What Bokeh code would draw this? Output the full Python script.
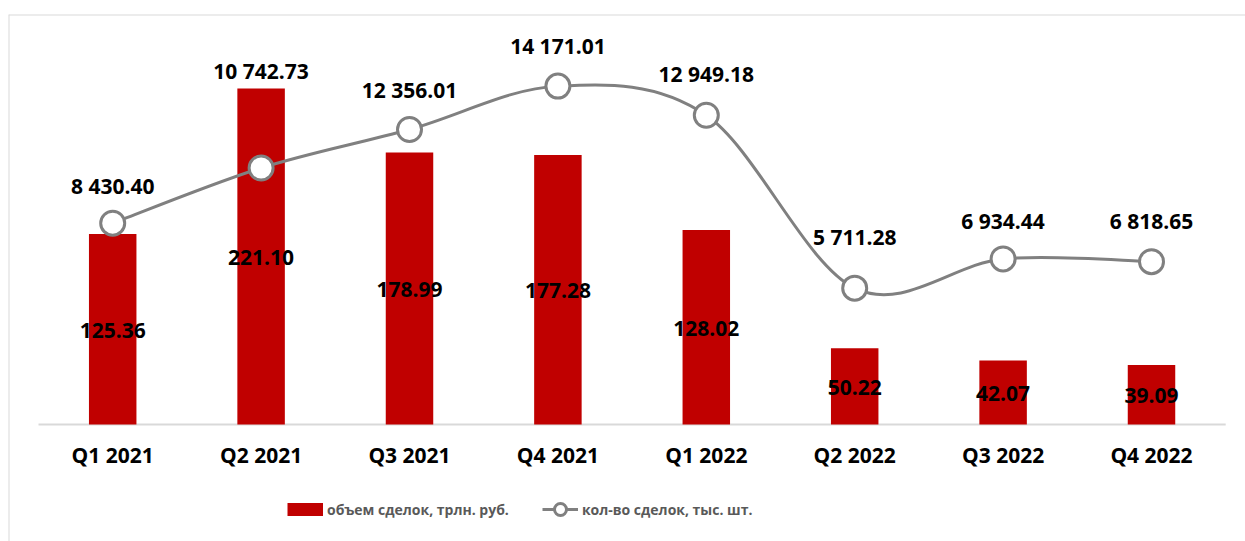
from bokeh.plotting import figure
from bokeh.models import ColumnDataSource, Range1d, FixedTicker, Legend, LegendItem, Span
from bokeh.core.properties import value
from bokeh.embed import file_html
from bokeh.resources import INLINE

# ---- data ----
categories = ["Q1 2021", "Q2 2021", "Q3 2021", "Q4 2021",
              "Q1 2022", "Q2 2022", "Q3 2022", "Q4 2022"]
volume = [125.36, 221.10, 178.99, 177.28, 128.02, 50.22, 42.07, 39.09]
count = [8430.40, 10742.73, 12356.01, 14171.01, 12949.18, 5711.28, 6934.44, 6818.65]
volume_name = "объем сделок, трлн. руб."
count_name = "кол-во сделок, тыс. шт."

# label vertical offsets (px, screen) for the line's data labels
label_dy = [-37, -97, -39, -40, -41, -51, -38, -41]

FONT = "Open Sans"
BAR = "#C00000"
GREY = "#808080"
BORDER = "#D9D9D9"

n = len(categories)
xs = [i + 0.5 for i in range(n)]


def fmt(v):
    return f"{v:,.2f}".replace(",", " ")


src = ColumnDataSource(dict(
    x=xs, vol=volume, vol_mid=[v / 2 for v in volume], vol_lbl=[fmt(v) for v in volume],
    cnt=count, cnt_lbl=[fmt(v) for v in count], dy=label_dy,
))

# smooth (Catmull-Rom -> Bezier) segments, like a spreadsheet "smoothed line"
pts = list(zip(xs, count))
bz = dict(x0=[], y0=[], x1=[], y1=[], cx0=[], cy0=[], cx1=[], cy1=[])
for i in range(n - 1):
    p0 = pts[max(i - 1, 0)]
    p1 = pts[i]
    p2 = pts[i + 1]
    p3 = pts[min(i + 2, n - 1)]
    bz["x0"].append(p1[0]); bz["y0"].append(p1[1])
    bz["x1"].append(p2[0]); bz["y1"].append(p2[1])
    bz["cx0"].append(p1[0] + (p2[0] - p0[0]) / 6)
    bz["cy0"].append(p1[1] + (p2[1] - p0[1]) / 6)
    bz["cx1"].append(p2[0] - (p3[0] - p1[0]) / 6)
    bz["cy1"].append(p2[1] - (p3[1] - p1[1]) / 6)
bz_src = ColumnDataSource(bz)

W, H = 1245, 541
LEFT, TOP = 8, 14
px_x = 148.4            # px per category
left_pad = 30           # px from frame left to first category edge
frame_w = W - LEFT
frame_h = H - TOP
base_from_top = 410     # px from frame top to the zero line
px_vol = 1.5197         # px per unit (volume)
px_cnt = 0.023878       # px per unit (count)

x0r = -left_pad / px_x
y_end = base_from_top / px_vol
p = figure(
    width=W, height=H,
    x_range=Range1d(x0r, x0r + frame_w / px_x),
    y_range=Range1d(-(frame_h - base_from_top) / px_vol, y_end),
    output_backend="svg", toolbar_location=None,
    min_border_left=LEFT, min_border_right=0, min_border_top=TOP, min_border_bottom=0,
    y_axis_location=None, outline_line_color=None,
)
p.extra_y_ranges = {"cnt": Range1d(-(frame_h - base_from_top) / px_cnt, base_from_top / px_cnt)}
p.xgrid.visible = False
p.ygrid.visible = False

# chart-area border (top and left edges)
p.add_layout(Span(location=y_end, dimension="width", line_color=BORDER, line_width=2))
p.add_layout(Span(location=x0r, dimension="height", line_color=BORDER, line_width=2))

# baseline across the category band
p.line(x=[0, n], y=[0, 0], line_color=BORDER, line_width=2)

p.vbar(x="x", top="vol", width=0.32, source=src, fill_color=BAR, line_color=None)
p.text(x="x", y="vol_mid", text="vol_lbl", source=src, y_offset=1,
       text_font=value(FONT), text_font_style="bold", text_font_size="21px",
       text_color="black", text_align="center", text_baseline="middle")

p.bezier(x0="x0", y0="y0", x1="x1", y1="y1", cx0="cx0", cy0="cy0", cx1="cx1", cy1="cy1",
         source=bz_src, line_color=GREY, line_width=3, y_range_name="cnt")
sc = p.scatter(x="x", y="cnt", source=src, size=24, fill_color="white",
               line_color=GREY, line_width=3, y_range_name="cnt")
p.text(x="x", y="cnt", text="cnt_lbl", source=src, y_offset="dy", y_range_name="cnt",
       text_font=value(FONT), text_font_style="bold", text_font_size="21px",
       text_color="black", text_align="center", text_baseline="middle")

ax = p.xaxis[0]
ax.fixed_location = 0
ax.ticker = FixedTicker(ticks=xs)
ax.major_label_overrides = {x: c for x, c in zip(xs, categories)}
ax.axis_line_color = None
ax.major_tick_line_color = None
ax.minor_tick_line_color = None
ax.major_label_standoff = 10
ax.major_label_text_font = FONT
ax.major_label_text_font_style = "bold"
ax.major_label_text_font_size = "21px"
ax.major_label_text_color = "black"

# legend-only renderers (a single off-scale NaN point so the legend draws them)
nan = float("nan")
leg_bar = p.line(x=[nan], y=[nan], line_color=BAR, line_width=13, line_cap="butt")
leg_line = p.line(x=[nan], y=[nan], line_color=GREY, line_width=3)

legend = Legend(
    items=[LegendItem(label=volume_name, renderers=[leg_bar]),
           LegendItem(label=count_name, renderers=[leg_line, sc])],
    orientation="horizontal", glyph_width=36, glyph_height=30,
    label_standoff=4, spacing=33, padding=0, margin=0,
    border_line_color=None, background_fill_alpha=0,
    label_text_font=FONT, label_text_font_style="bold", label_text_font_size="14px",
    label_text_color="#595959", location=(279, 17),
)
p.add_layout(legend, "center")

open("out.html", "w").write(file_html(p, INLINE))
